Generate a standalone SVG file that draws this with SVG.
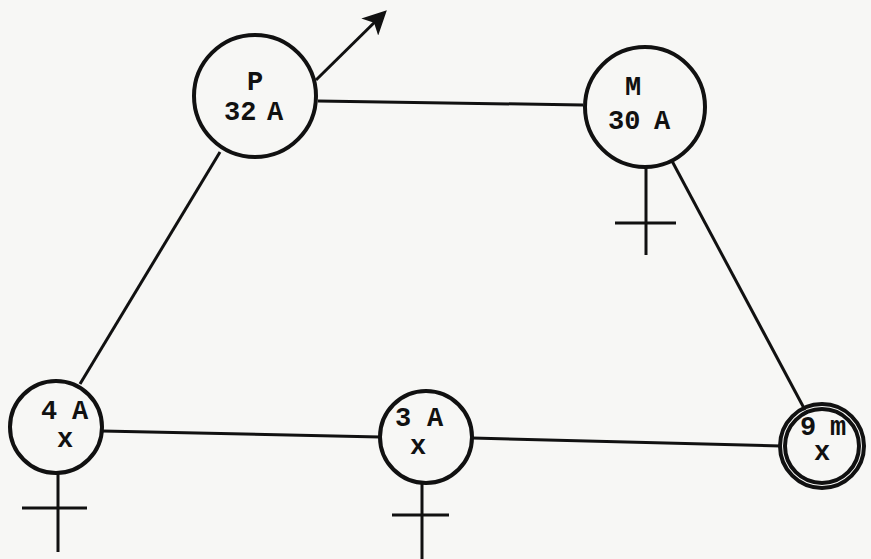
<svg xmlns="http://www.w3.org/2000/svg" width="871" height="559" viewBox="0 0 871 559">
<defs>
<style>
.n{fill:none;stroke:#111;stroke-width:4}
.l{stroke:#111;stroke-width:3;fill:none}
.t{font-family:"Liberation Mono","DejaVu Sans Mono",monospace;font-size:27px;font-weight:bold;fill:#111}
</style>
<marker id="ah" viewBox="0 0 12 12" refX="10" refY="6" markerWidth="8" markerHeight="8" orient="auto" markerUnits="strokeWidth">
<path d="M0,0 L12,6 L0,12 L3,6 Z" fill="#111"/>
</marker>
</defs>
<rect width="871" height="559" fill="#f7f7f5"/>
<g id="connectors">
<line class="l" x1="318" y1="101" x2="583" y2="105"/>
<line class="l" x1="220" y1="152" x2="80" y2="384"/>
<line class="l" x1="672" y1="161" x2="805" y2="410"/>
<line class="l" x1="102" y1="431" x2="380" y2="437"/>
<line class="l" x1="472" y1="438" x2="781" y2="446"/>
<line class="l" x1="316" y1="80" x2="384" y2="13" stroke-width="3.5" marker-end="url(#ah)"/>
</g>
<g id="P">
<circle class="n" cx="255" cy="96" r="61"/>
<text class="t" x="255" y="90" text-anchor="middle">P</text>
<text class="t" x="224" y="120">32</text>
<text class="t" x="267" y="120">A</text>
</g>
<g id="M">
<circle class="n" cx="645" cy="107" r="60"/>
<text class="t" x="633" y="95" text-anchor="middle">M</text>
<text class="t" x="608" y="129">30</text>
<text class="t" x="654" y="129">A</text>
<line class="l" x1="646" y1="167" x2="646" y2="255"/>
<line class="l" x1="615" y1="223" x2="676" y2="223"/>
</g>
<g id="n4A">
<circle class="n" cx="56" cy="427" r="46"/>
<text class="t" x="41" y="419">4</text>
<text class="t" x="72" y="419">A</text>
<text class="t" x="57" y="447">x</text>
<line class="l" x1="58" y1="473" x2="58" y2="552"/>
<line class="l" x1="22" y1="508" x2="87" y2="508"/>
</g>
<g id="n3A">
<circle class="n" cx="426" cy="437" r="46"/>
<text class="t" x="395" y="426">3</text>
<text class="t" x="427" y="426">A</text>
<text class="t" x="410" y="454">x</text>
<line class="l" x1="422" y1="483" x2="422" y2="559"/>
<line class="l" x1="392" y1="515" x2="449" y2="515"/>
</g>
<g id="n9m">
<circle class="n" cx="822" cy="446" r="42" stroke-width="3"/>
<circle class="n" cx="822" cy="446" r="37" stroke-width="2.5"/>
<text class="t" x="800" y="435" font-weight="normal">9</text>
<text class="t" x="830" y="435">m</text>
<text class="t" x="814" y="460">x</text>
</g>
</svg>
